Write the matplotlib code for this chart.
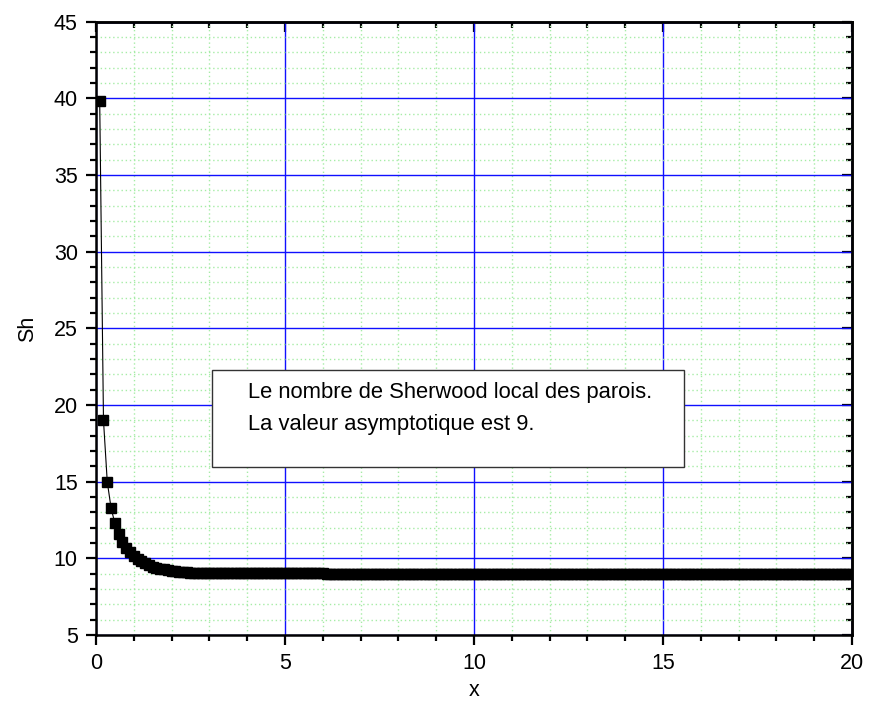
import numpy as np
import matplotlib.pyplot as plt
from matplotlib.patches import Rectangle
from matplotlib.ticker import MultipleLocator

plt.rcParams['font.family'] = ['Liberation Sans', 'DejaVu Sans']
plt.rcParams['font.size'] = 15.5

# abscisse : pas de 0.1 de 0.1 a 20
x = np.round(np.arange(1, 201) * 0.1, 1)

# Sh local des parois
sh_entree = [39.8, 19.0, 15.0, 13.3, 12.3, 11.6, 11.1, 10.7, 10.4, 10.15,
             9.95, 9.8, 9.67, 9.56, 9.47, 9.40, 9.34, 9.29, 9.24, 9.20,
             9.17, 9.14, 9.12, 9.10, 9.08, 9.07, 9.06, 9.05, 9.04, 9.04]
sh_plateau = [
    9.02, 9.02, 9.02, 9.02, 9.02, 9.02, 9.02, 9.02, 9.02, 9.02,
    9.02, 9.02, 9.02, 9.02, 9.02, 9.02, 9.02, 9.02, 9.02, 9.02,
    9.02, 9.02, 9.02, 9.02, 9.02, 9.02, 9.02, 9.02, 9.02, 9.02,
    8.99, 8.99, 8.99, 8.99, 8.99, 8.99, 8.99, 8.99, 8.99, 8.99,
    8.99, 8.99, 8.99, 8.99, 8.99, 8.99, 8.99, 8.99, 8.99, 8.99,
    8.99, 8.99, 8.99, 8.99, 8.99, 8.99, 8.99, 8.99, 8.99, 8.99,
    8.99, 8.99, 8.99, 8.99, 8.99, 8.99, 8.99, 8.99, 8.99, 8.99,
    8.99, 8.99, 8.99, 8.99, 8.99, 8.99, 8.99, 8.99, 8.99, 8.99,
    8.99, 8.99, 8.99, 8.99, 8.99, 8.99, 8.99, 8.99, 8.99, 8.99,
    8.99, 8.99, 8.99, 8.99, 8.99, 8.99, 8.99, 8.99, 8.99, 8.99,
    8.99, 8.99, 8.99, 8.99, 8.99, 8.99, 8.99, 8.99, 8.99, 8.99,
    8.99, 8.99, 8.99, 8.99, 8.99, 8.99, 8.99, 8.99, 8.99, 8.99,
    8.99, 8.99, 8.99, 8.99, 8.99, 8.99, 8.99, 8.99, 8.99, 8.99,
    8.99, 8.99, 8.99, 8.99, 8.99, 8.99, 8.99, 8.99, 8.99, 8.99,
    8.99, 8.99, 8.99, 8.96, 8.96, 8.96, 8.96, 8.96, 8.96, 8.96,
    8.96, 8.96, 8.96, 8.96, 8.96, 8.96, 8.96, 8.96, 8.96, 8.96,
    8.96, 8.96, 8.96, 8.96, 8.96, 8.96, 8.96, 8.96, 8.96, 8.96,
]
sh = np.array(sh_entree + sh_plateau)

legende = ['Le nombre de Sherwood local des parois.',
           'La valeur asymptotique est 9.']

fig = plt.figure(figsize=(8.72, 7.25), dpi=100)
ax = fig.add_axes([0.110, 0.124, 0.867, 0.846])

ax.plot(x, sh, '-', color='black', lw=0.8,
        marker='s', markersize=7.5, markerfacecolor='black',
        markeredgecolor='black', zorder=4)

ax.set_xlim(0, 20)
ax.set_ylim(5, 45)
ax.xaxis.set_major_locator(MultipleLocator(5))
ax.xaxis.set_minor_locator(MultipleLocator(1))
ax.yaxis.set_major_locator(MultipleLocator(5))
ax.yaxis.set_minor_locator(MultipleLocator(1))

# grilles
ax.grid(which='minor', color='#a6eca6', linestyle=(0, (1, 2)), lw=1.0)
ax.grid(which='major', color='#1010ff', linestyle='-', lw=1.0)
ax.set_axisbelow(True)

for s in ax.spines.values():
    s.set_linewidth(1.8)

ax.tick_params(which='both', direction='out', width=1.6,
               top=False, right=False, pad=6)
ax.tick_params(which='major', length=7)
ax.tick_params(which='minor', length=4.5)

# graduations des axes opposes, vers l'interieur
axt = ax.secondary_xaxis('top')
axt.xaxis.set_major_locator(MultipleLocator(5))
axt.xaxis.set_minor_locator(MultipleLocator(1))
axt.tick_params(which='both', direction='in', width=1.6, labeltop=False)
axt.tick_params(which='major', length=7)
axt.tick_params(which='minor', length=4.5)
axr = ax.secondary_yaxis('right')
axr.yaxis.set_major_locator(MultipleLocator(5))
axr.yaxis.set_minor_locator(MultipleLocator(1))
axr.tick_params(which='both', direction='in', width=1.6, labelright=False)
axr.tick_params(which='major', length=7)
axr.tick_params(which='minor', length=4.5)
for a in (axt, axr):
    for s in a.spines.values():
        s.set_linewidth(1.8)

ax.set_xlabel('x', labelpad=4)
ax.set_ylabel('Sh', labelpad=11)

# encadre de commentaire
ax.add_patch(Rectangle((0.153, 0.274), 0.625, 0.158, transform=ax.transAxes,
                       facecolor='white', edgecolor='#333333', lw=1.0,
                       zorder=5))
ax.text(0.201, 0.396, legende[0], transform=ax.transAxes, va='center',
        ha='left', fontsize=15.8, zorder=6)
ax.text(0.201, 0.344, legende[1], transform=ax.transAxes, va='center',
        ha='left', fontsize=15.8, zorder=6)

fig.savefig('out.png', dpi=100)
